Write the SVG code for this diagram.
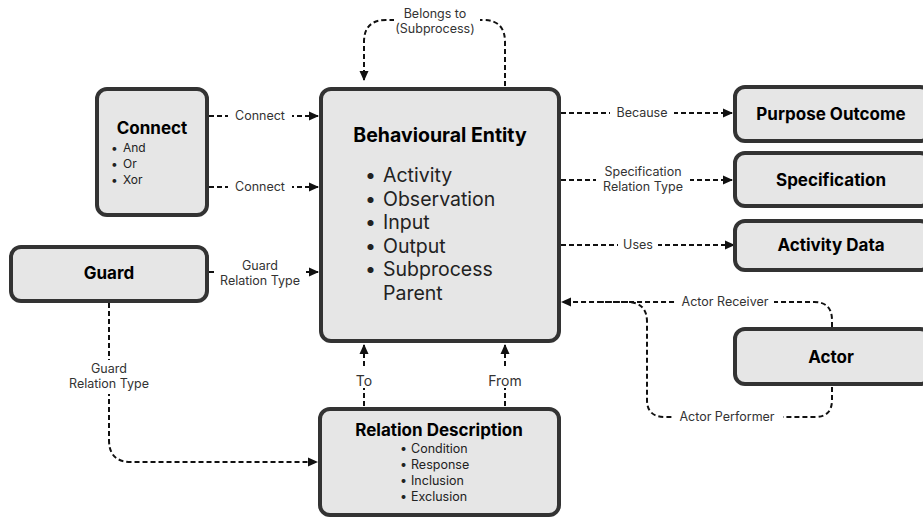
<svg xmlns="http://www.w3.org/2000/svg" width="923" height="519" viewBox="0 0 923 519">
<style>
.box{fill:#e6e6e6;stroke:#333;stroke-width:4}
.t{font-family:Inter,"Noto Sans",sans-serif;font-weight:700;fill:#000;text-anchor:middle}
.b{font-family:Inter,"Noto Sans",sans-serif;fill:#222}
.l{font-family:Inter,"Noto Sans",sans-serif;font-size:12.5px;fill:#333;text-anchor:middle}
.e{fill:none;stroke:#111;stroke-width:2;stroke-dasharray:5 3}
.bg{fill:#fff}
</style>
<defs>
<marker id="ah" viewBox="0 0 10 10" refX="9" refY="5" markerWidth="10" markerHeight="10" markerUnits="userSpaceOnUse" orient="auto">
<path d="M0,0.5 L10,5 L0,9.5 z" fill="#111"/>
</marker>
</defs>
<g id="connectors">
<path class="e" d="M209,116 H318" marker-end="url(#ah)"/>
<path class="e" d="M209,187 H318" marker-end="url(#ah)"/>
<path class="e" d="M209,272 H318" marker-end="url(#ah)"/>
<path class="e" d="M109,303 V440 Q109,462 131,462 H317" marker-end="url(#ah)"/>
<path class="e" d="M505,86 V42 Q505,20 483,20 H386 Q364,20 364,42 V80" marker-end="url(#ah)"/>
<path class="e" d="M364,406 V345" marker-end="url(#ah)"/>
<path class="e" d="M505,406 V345" marker-end="url(#ah)"/>
<path class="e" d="M561,113 H732" marker-end="url(#ah)"/>
<path class="e" d="M561,180 H732" marker-end="url(#ah)"/>
<path class="e" d="M561,245 H734" marker-end="url(#ah)"/>
<path class="e" d="M832,327 V320 Q832,302 814,302 H562" marker-end="url(#ah)"/>
<path class="e" d="M832,387 V400 Q832,417 815,417 H665 Q647,417 647,400 V322 Q647,302 627,302 H600"/>
<rect class="bg" x="228" y="108" width="64" height="16"/>
<text class="l" x="260" y="120">Connect</text>
<rect class="bg" x="228" y="179" width="64" height="16"/>
<text class="l" x="260" y="191">Connect</text>
<rect class="bg" x="214" y="258" width="92" height="32"/>
<text class="l" x="260" y="270">Guard</text>
<text class="l" x="260" y="285">Relation Type</text>
<rect class="bg" x="62" y="360" width="94" height="34"/>
<text class="l" x="109" y="373">Guard</text>
<text class="l" x="109" y="388">Relation Type</text>
<rect class="bg" x="394" y="6" width="86" height="30"/>
<text class="l" x="435" y="18">Belongs to</text>
<text class="l" x="435" y="33">(Subprocess)</text>
<rect class="bg" x="350" y="366" width="28" height="22"/>
<text class="l" x="364" y="386" style="font-size:14px">To</text>
<rect class="bg" x="482" y="366" width="46" height="22"/>
<text class="l" x="505" y="386" style="font-size:14px">From</text>
<rect class="bg" x="610" y="105" width="64" height="16"/>
<text class="l" x="642" y="117">Because</text>
<rect class="bg" x="596" y="164" width="94" height="31"/>
<text class="l" x="643" y="176">Specification</text>
<text class="l" x="643" y="191">Relation Type</text>
<rect class="bg" x="618" y="237" width="40" height="16"/>
<text class="l" x="638" y="249">Uses</text>
<rect class="bg" x="676" y="294" width="98" height="16"/>
<text class="l" x="725" y="306">Actor Receiver</text>
<rect class="bg" x="673" y="409" width="110" height="16"/>
<text class="l" x="727" y="421">Actor Performer</text>
</g>
<g id="behavioural-entity">
<rect class="box" x="321" y="89" width="238" height="252" rx="10"/>
<text class="t" x="440" y="142" style="font-size:19.5px">Behavioural Entity</text>
<g class="b" style="font-size:19.5px">
<text x="365" y="182">•</text><text x="383" y="182">Activity</text>
<text x="365" y="206">•</text><text x="383" y="206">Observation</text>
<text x="365" y="229">•</text><text x="383" y="229">Input</text>
<text x="365" y="253">•</text><text x="383" y="253">Output</text>
<text x="365" y="276">•</text><text x="383" y="276">Subprocess</text>
<text x="383" y="300">Parent</text>
</g>
</g>
<g id="connect">
<rect class="box" x="97" y="89" width="110" height="126" rx="10"/>
<text class="t" x="152" y="134" style="font-size:17px">Connect</text>
<g class="b" style="font-size:12px">
<text x="111" y="152">•</text><text x="123" y="152">And</text>
<text x="111" y="168">•</text><text x="123" y="168">Or</text>
<text x="111" y="184">•</text><text x="123" y="184">Xor</text>
</g>
</g>
<g id="guard">
<rect class="box" x="11" y="247" width="196" height="54" rx="10"/>
<text class="t" x="109" y="279" style="font-size:17px">Guard</text>
</g>
<g id="relation-description">
<rect class="box" x="320" y="409" width="239" height="106" rx="10"/>
<text class="t" x="439" y="436" style="font-size:17px">Relation Description</text>
<g class="b" style="font-size:12.5px">
<text x="400" y="453">•</text><text x="411" y="453">Condition</text>
<text x="400" y="469">•</text><text x="411" y="469">Response</text>
<text x="400" y="485">•</text><text x="411" y="485">Inclusion</text>
<text x="400" y="501">•</text><text x="411" y="501">Exclusion</text>
</g>
</g>
<g id="purpose-outcome">
<rect class="box" x="735" y="87" width="195" height="54" rx="10"/>
<text class="t" x="831" y="120" style="font-size:17px">Purpose Outcome</text>
</g>
<g id="specification">
<rect class="box" x="735" y="153" width="195" height="53" rx="10"/>
<text class="t" x="831" y="186" style="font-size:17px">Specification</text>
</g>
<g id="activity-data">
<rect class="box" x="735" y="221" width="195" height="49" rx="10"/>
<text class="t" x="831" y="251" style="font-size:17px">Activity Data</text>
</g>
<g id="actor">
<rect class="box" x="735" y="329" width="195" height="55" rx="10"/>
<text class="t" x="831" y="363" style="font-size:17px">Actor</text>
</g>
</svg>
